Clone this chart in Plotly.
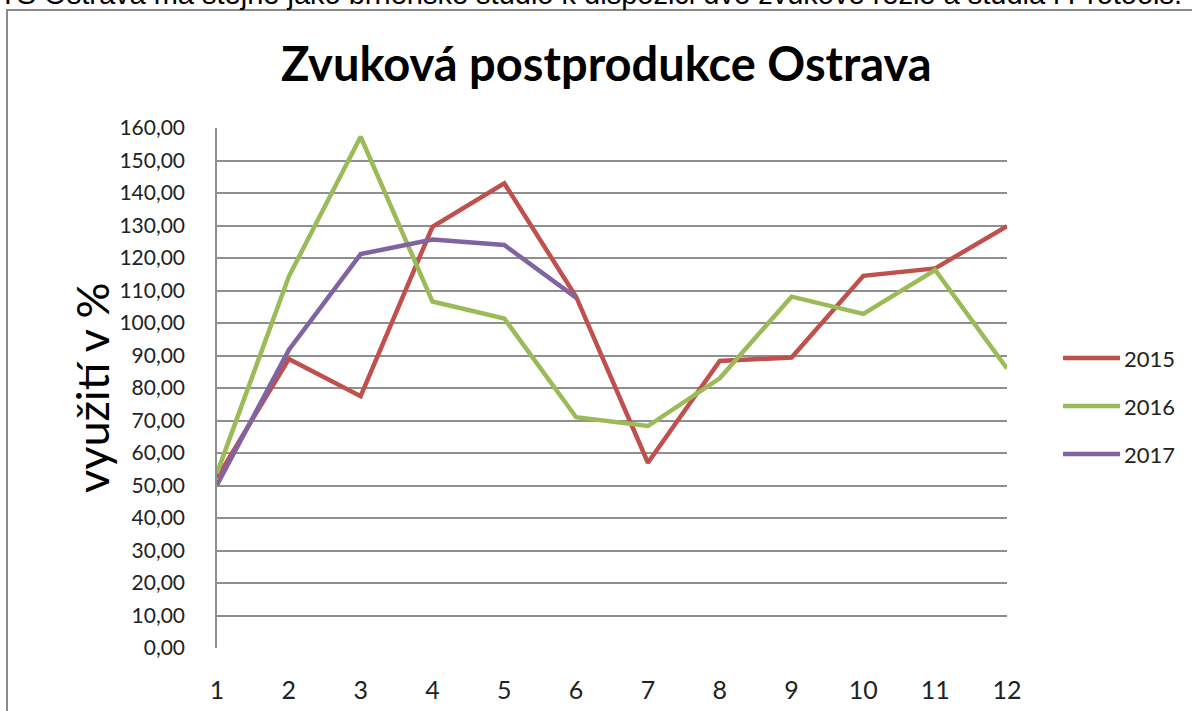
import plotly.graph_objects as go

months = [1, 2, 3, 4, 5, 6, 7, 8, 9, 10, 11, 12]
v2015 = [52.3, 88.9, 77.5, 129.6, 143.0, 108.1, 57.0, 88.3, 89.4, 114.5, 116.8, 129.8]
v2016 = [53.8, 114.3, 157.3, 106.6, 101.4, 71.0, 68.3, 83.0, 108.1, 102.8, 116.3, 86.0]
v2017 = [50.2, 91.7, 121.2, 125.7, 124.0, 107.8]
series_names = ["2015", "2016", "2017"]
series_values = [v2015, v2016, v2017]
colors = ["#C0504D", "#9BBB59", "#8064A2"]
y_ticks = [0, 10, 20, 30, 40, 50, 60, 70, 80, 90, 100, 110, 120, 130, 140, 150, 160]

title_text = "Zvuková postprodukce Ostrava"
y_title = "využití v %"
top_text = "TS Ostrava má stejně jako brněnské studio k dispozici dvě zvukové režie a studia i Protools."

W, H = 1192, 711
ML, MR, MT, MB = 217, 185, 128, 63
PW, PH = W - ML - MR, H - MT - MB


def px_x(p):
    return (p - ML) / PW


def px_y(p):
    return (H - MB - p) / PH


FONT = "Lato"

fig = go.Figure()
for name, vals, col in zip(series_names, series_values, colors):
    fig.add_trace(go.Scatter(
        x=months[:len(vals)], y=vals, mode="lines", name=name,
        line=dict(color=col, width=4.5), showlegend=False,
    ))

# manual legend
leg_y = [358, 406, 454]
for name, col, ly in zip(series_names, colors, leg_y):
    fig.add_shape(type="line", xref="paper", yref="paper",
                  x0=px_x(1063), x1=px_x(1120), y0=px_y(ly), y1=px_y(ly),
                  line=dict(color=col, width=4.5))
    fig.add_annotation(xref="paper", yref="paper", x=px_x(1122), y=px_y(ly),
                       text=name, showarrow=False, xanchor="left", yanchor="middle",
                       font=dict(family=FONT, size=22, color="#222"))

# outer frame
fig.add_shape(type="rect", xref="paper", yref="paper",
              x0=px_x(7), x1=px_x(1250), y0=px_y(10), y1=px_y(760),
              line=dict(color="#8a8a8a", width=2), fillcolor="rgba(0,0,0,0)", layer="below")

# cut-off text above
fig.add_annotation(xref="paper", yref="paper", x=px_x(-2), y=px_y(11),
                   text=top_text, showarrow=False, xanchor="left", yanchor="bottom",
                   font=dict(family="Liberation Sans", size=29, color="#000"), borderpad=0)

# title
fig.add_annotation(xref="paper", yref="paper", x=px_x(606), y=px_y(63),
                   text="<b>" + title_text + "</b>", showarrow=False,
                   xanchor="center", yanchor="middle",
                   font=dict(family=FONT, size=47, color="#000"))

# y title
fig.add_annotation(xref="paper", yref="paper", x=px_x(92), y=px_y(387),
                   text=y_title, showarrow=False, textangle=-90,
                   xanchor="center", yanchor="middle",
                   font=dict(family=FONT, size=45, color="#000"))

fig.update_layout(
    width=W, height=H,
    margin=dict(l=ML, r=MR, t=MT, b=MB, pad=0, autoexpand=False),
    paper_bgcolor="white", plot_bgcolor="white",
    separators=", ",
    font=dict(family=FONT, size=20, color="#222"),
    xaxis=dict(range=[1, 12], tickvals=months, ticktext=[str(m) for m in months],
               showgrid=False, zeroline=False, showline=False, automargin=False,
               ticks="outside", ticklen=20, tickcolor="rgba(0,0,0,0)",
               tickfont=dict(family=FONT, size=25, color="#222")),
    yaxis=dict(range=[0, 160], tickvals=y_ticks, tickformat=".2f",
               showgrid=True, gridcolor="#8f8f8f", gridwidth=1.5, automargin=False,
               zeroline=False, showline=True, linecolor="#8f8f8f", linewidth=1.5,
               ticks="outside", ticklen=26, tickcolor="rgba(0,0,0,0)",
               tickfont=dict(family=FONT, size=21, color="#222")),
)

fig.write_html("out.html", config={"displayModeBar": False},
               post_script="document.body.style.margin='0';document.body.style.overflow='hidden';")
